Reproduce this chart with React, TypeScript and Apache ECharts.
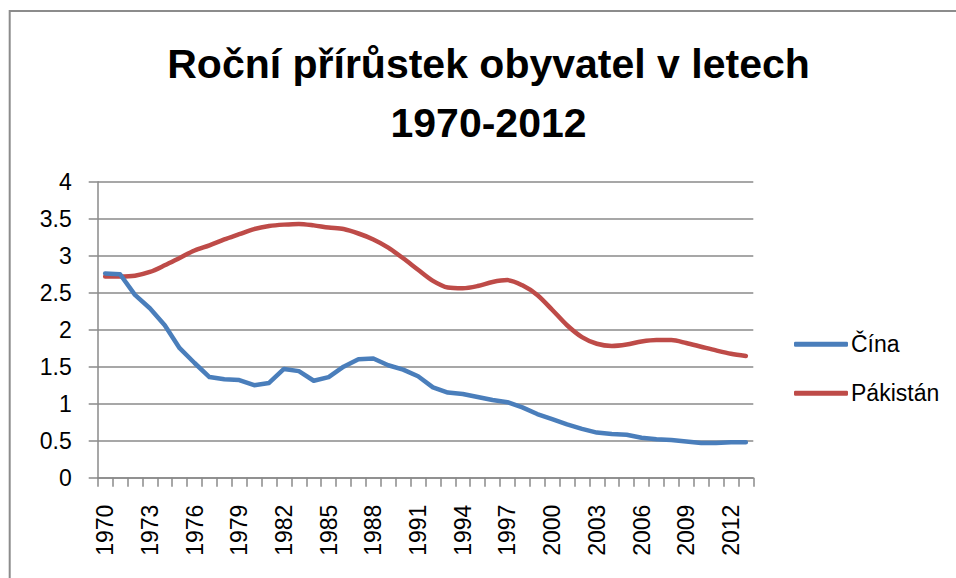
import React, { useEffect, useRef } from "react";
import * as echarts from "echarts";

const titleText = "Roční přírůstek obyvatel v letech\n1970-2012";
const seriesNames = ["Čína", "Pákistán"];
const years = [
  "1970", "1971", "1972", "1973", "1974", "1975", "1976", "1977", "1978", "1979",
  "1980", "1981", "1982", "1983", "1984", "1985", "1986", "1987", "1988", "1989",
  "1990", "1991", "1992", "1993", "1994", "1995", "1996", "1997", "1998", "1999",
  "2000", "2001", "2002", "2003", "2004", "2005", "2006", "2007", "2008", "2009",
  "2010", "2011", "2012", "2013",
];
const china = [
  2.76, 2.75, 2.47, 2.29, 2.06, 1.75, 1.55, 1.36, 1.33, 1.32,
  1.25, 1.28, 1.47, 1.44, 1.31, 1.36, 1.5, 1.6, 1.61, 1.52,
  1.46, 1.37, 1.22, 1.15, 1.13, 1.09, 1.05, 1.02, 0.95, 0.86,
  0.79, 0.72, 0.66, 0.61, 0.59, 0.58, 0.54, 0.52, 0.51, 0.49,
  0.47, 0.47, 0.48, 0.48,
];
const pakistan = [
  2.72, 2.72, 2.73, 2.78, 2.87, 2.97, 3.07, 3.14, 3.22, 3.29,
  3.36, 3.4, 3.42, 3.43, 3.41, 3.38, 3.36, 3.3, 3.22, 3.11,
  2.965, 2.81, 2.66, 2.57, 2.56, 2.59, 2.645, 2.67, 2.6, 2.47,
  2.27, 2.06, 1.9, 1.81, 1.78, 1.8, 1.84, 1.86, 1.86, 1.82,
  1.77, 1.72, 1.675, 1.645,
];

const FONT = "'Liberation Sans', Arial, sans-serif";
const GRID_COLOR = "#8a8a8a";

export default function App() {
  const ref = useRef<HTMLDivElement>(null);
  useEffect(() => {
    if (!ref.current) return;
    const chart = echarts.init(ref.current, null, { renderer: "svg" });
    chart.setOption({
      animation: false,
      backgroundColor: "#ffffff",
      textStyle: { fontFamily: FONT },
      title: {
        text: titleText,
        left: 488.5,
        top: 34,
        padding: 0,
        textAlign: "center",
        textStyle: {
          fontFamily: FONT,
          fontSize: 41,
          fontWeight: "bold",
          color: "#000000",
          lineHeight: 59,
        },
      },
      graphic: [
        {
          type: "rect",
          shape: { x: 9.7, y: 11, width: 2000, height: 2000 },
          style: { fill: "none", stroke: "#8c8c8c", lineWidth: 2 },
          silent: true,
        },
      ],
      legend: {
        orient: "vertical",
        left: 794,
        top: 332.8,
        padding: 0,
        icon: "roundRect",
        itemWidth: 54,
        itemHeight: 5,
        itemGap: 26,
        textStyle: { fontFamily: FONT, fontSize: 23, color: "#000000", padding: [0, 0, 0, -2] },
        data: seriesNames,
      },
      grid: {
        left: 97.7,
        right: 202.7,
        top: 181.7,
        bottom: 100.3,
        containLabel: false,
      },
      xAxis: {
        type: "category",
        data: years,
        boundaryGap: true,
        axisLine: { show: true, lineStyle: { color: GRID_COLOR, width: 1.5 } },
        axisTick: { show: true, interval: 0, length: 9, lineStyle: { color: GRID_COLOR, width: 1.5 } },
        axisLabel: {
          interval: 2,
          rotate: 90,
          margin: 27,
          fontFamily: FONT,
          fontSize: 23,
          color: "#000000",
        },
        splitLine: { show: false },
      },
      yAxis: {
        type: "value",
        min: 0,
        max: 4,
        interval: 0.5,
        axisLine: { show: true, lineStyle: { color: GRID_COLOR, width: 1.5 } },
        axisTick: { show: true, length: 9, lineStyle: { color: GRID_COLOR, width: 1.5 } },
        axisLabel: {
          margin: 26,
          fontFamily: FONT,
          fontSize: 23,
          color: "#000000",
        },
        splitLine: { show: true, lineStyle: { color: GRID_COLOR, width: 1.5 } },
      },
      series: [
        {
          name: seriesNames[0],
          type: "line",
          data: china,
          symbol: "none",
          smooth: false,
          lineStyle: { color: "#4a7ebb", width: 4.5, cap: "round", join: "round" },
          itemStyle: { color: "#4a7ebb" },
          z: 3,
        },
        {
          name: seriesNames[1],
          type: "line",
          data: pakistan,
          symbol: "none",
          smooth: 0.3,
          lineStyle: { color: "#be4b48", width: 4.5, cap: "round", join: "round" },
          itemStyle: { color: "#be4b48" },
          z: 2,
        },
      ],
    });
    return () => chart.dispose();
  }, []);
  return (
    <div
      ref={ref}
      style={{ position: "fixed", left: 0, top: 0, width: 956, height: 578, background: "#fff" }}
    />
  );
}
